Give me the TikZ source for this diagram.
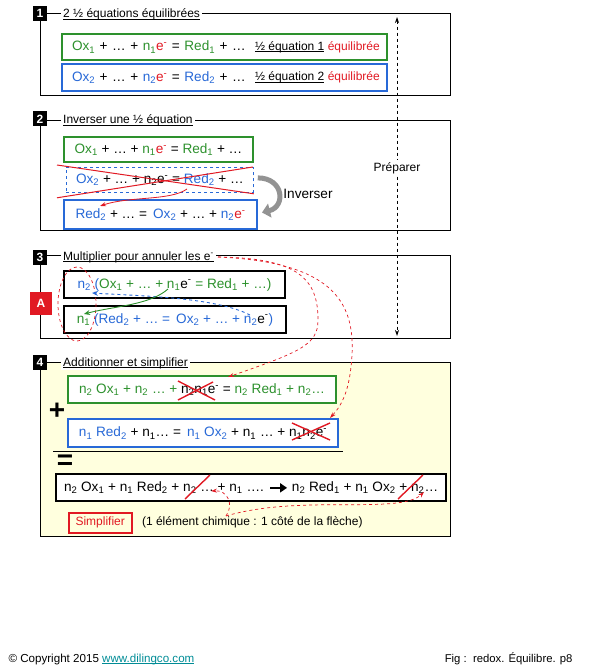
\documentclass[tikz,border=0pt]{standalone}
\usepackage{fontspec}
\setmainfont{Liberation Sans}
\usetikzlibrary{arrows.meta,positioning,calc}

\definecolor{eqgreen}{RGB}{45,145,45}
\definecolor{eqblue}{RGB}{40,105,215}
\definecolor{eqred}{RGB}{225,25,35}
\definecolor{paleyellow}{RGB}{255,255,222}
\definecolor{linkteal}{RGB}{0,140,150}

\newcommand{\gr}[1]{\textcolor{eqgreen}{#1}}
\newcommand{\bl}[1]{\textcolor{eqblue}{#1}}
\newcommand{\rd}[1]{\textcolor{eqred}{#1}}
\newcommand{\ix}[1]{\textsubscript{#1}}
\newcommand{\elec}{e\textsuperscript{-}}
\newcommand{\ul}[1]{\underline{\vphantom{x}\smash{#1}}}
\newcommand{\eqsize}{\fontsize{13.6}{15}\selectfont}
\newcommand{\lblsize}{\fontsize{12}{14}\selectfont}
\newcommand{\yields}{\tikz[baseline=-3.5pt]\draw[line width=2.2pt,-{Triangle[length=7pt,width=9pt]}] (0pt,0pt) -- (17pt,0pt);}

\tikzset{
  stepnum/.style={fill=black, text=white, font=\bfseries\lblsize, minimum width=14, minimum height=15, inner sep=0},
  steptitle/.style={fill=white, inner sep=2, anchor=base west, font=\lblsize},
  panel/.style={draw, line width=0.8},
  eqbox/.style={draw, line width=2, fill=white, inner xsep=8, font=\eqsize},
  greenbox/.style={eqbox, draw=eqgreen},
  bluebox/.style={eqbox, draw=eqblue},
  blackbox/.style={eqbox, draw=black},
  cross/.style={draw=eqred, line width=1.4},
  hint/.style={draw=eqred, dashed, line width=0.7, -{Stealth[length=6,width=4]}},
}

\begin{document}
\begin{tikzpicture}[x=1pt, y=-1pt, node distance=4]
  \useasboundingbox (0,0) rectangle (595,671);

  % 1 : two balanced half equations
  \draw[panel] (40,13) rectangle (450,95);
  \node[stepnum] (num1) at (40,13.5) {1};
  \node[steptitle] (title1) at (61,17.5) {\ul{2 ½ équations équilibrées}};
  \node[greenbox, anchor=north west, text width=305, inner xsep=10, minimum height=26, align=left] (half1) at (61,33)
    {\gr{Ox\ix{1}} + … + \gr{n\ix{1}}\rd{\elec} = \gr{Red\ix{1}} + …};
  \node[font=\lblsize, anchor=east, inner sep=0] (tag1) at ($(half1.east)+(-8,0)$) {\ul{½ équation 1} \rd{équilibrée}};
  \node[bluebox, anchor=north west, text width=305, inner xsep=10, minimum height=27, align=left] (half2) at (61,63)
    {\bl{Ox\ix{2}} + … + \bl{n\ix{2}}\rd{\elec} = \bl{Red\ix{2}} + …};
  \node[font=\lblsize, anchor=east, inner sep=0] (tag2) at ($(half2.east)+(-8,0)$) {\ul{½ équation 2} \rd{équilibrée}};

  % 2 : reverse one half equation
  \draw[panel] (40,120) rectangle (450,230);
  \node[stepnum] (num2) at (40,119) {2};
  \node[steptitle] (title2) at (61,124) {\ul{Inverser une ½ équation}};
  \node[greenbox, anchor=north west, minimum width=189, minimum height=25] (keep1) at (63,136)
    {\gr{Ox\ix{1}} + … + \gr{n\ix{1}}\rd{\elec} = \gr{Red\ix{1}} + …};
  \node[draw=eqblue, dashed, line width=0.8, font=\eqsize, anchor=north west, minimum width=187, minimum height=25] (flipOld) at (66,167)
    {\bl{Ox\ix{2}} + … + n\ix{2}\elec{} = \bl{Red\ix{2}} + …};
  \node[bluebox, anchor=north west, minimum width=193, minimum height=29] (flipNew) at (63,199)
    {\bl{Red\ix{2}} + … = \,\bl{Ox\ix{2}} + … + \bl{n\ix{2}}\rd{\elec}};
  \draw[cross, line width=1] ($(flipOld.north west)+(-9,-2)$) -- ($(flipOld.south east)+(0,1)$);
  \draw[cross, line width=1] ($(flipOld.south west)+(-9,5)$) -- ($(flipOld.north east)+(-1,0)$);
  \draw[line width=5, gray!85, -{Triangle[length=8,width=14]}]
    ($(flipOld.east)+(4,-2)$) .. controls +(26,0) and +(24,-6) .. ($(flipNew.east)+(4,-2)$);
  \node[font=\eqsize] (flipLabel) at (308,194) {Inverser};
  \coordinate (oldRed) at (187,189);
  \coordinate (newRed) at (100,206);
  \draw[eqred, line width=0.8, -{Stealth[length=6,width=4]}] (oldRed) .. controls (170,201) and (130,196) .. (newRed);

  % 3 : multiply to cancel the electrons
  \draw[panel] (40,255) rectangle (450,338);
  \node[stepnum] (num3) at (40,257.5) {3};
  \node[steptitle] (title3) at (61,260) {\ul{Multiplier pour annuler les e\textsuperscript{-}}};
  \node[blackbox, anchor=north west, minimum width=221, minimum height=27] (mult1) at (63,270)
    {\bl{n\ix{2} (}\gr{Ox\ix{1} + … + n\ix{1}}\elec{} \gr{= Red\ix{1} + …)}};
  \node[blackbox, anchor=north west, minimum width=222, minimum height=27] (mult2) at (63,305)
    {\gr{n\ix{1}} \bl{(Red\ix{2} + … = \,Ox\ix{2} + … + n\ix{2}}\elec\bl{)}};
  \node[fill=eqred, text=white, font=\bfseries\lblsize, minimum width=22, minimum height=23, inner sep=0] (markA) at (41,303) {A};
  \draw[eqred, dashed, line width=0.7] (77,304) ellipse [x radius=19, y radius=37];
  \coordinate (n2tail) at (250,315);
  \coordinate (n2head) at (92,293);
  \coordinate (n1tail) at (168,289);
  \coordinate (n1head) at (84,314);
  \draw[eqblue, dashed, line width=0.9, -{Stealth[length=6,width=5]}] (n2tail) .. controls (215,297) and (140,296) .. (n2head);
  \draw[eqgreen, line width=0.9, -{Stealth[length=6,width=5]}] (n1tail) .. controls (150,305) and (115,306) .. (n1head);

  % preparation arrow
  \coordinate (prepTop) at (397,17);
  \coordinate (prepBot) at (397,336);
  \draw[dashed, line width=0.8, {Stealth[length=6,width=4]}-{Stealth[length=6,width=4]}] (prepTop) -- (prepBot);
  \node[fill=white, font=\lblsize, inner sep=2] (prepLabel) at (397,168) {Préparer};

  % 4 : add and simplify
  \draw[panel, fill=paleyellow] (40,362) rectangle (450,536);
  \node[stepnum] (num4) at (40,362.5) {4};
  \node[steptitle] (title4) at (61,366) {\ul{Additionner et simplifier}};
  \node[greenbox, anchor=north west, minimum width=268, minimum height=27] (sum1) at (67,375)
    {\gr{n\ix{2} Ox\ix{1} + n\ix{2} … +} n\ix{2}n\ix{1}\elec{} = \gr{n\ix{2} Red\ix{1} + n\ix{2}…}};
  \node[bluebox, anchor=north west, minimum width=270, minimum height=28] (sum2) at (67,418)
    {\bl{n\ix{1} Red\ix{2}} + n\ix{1}… = \,\bl{n\ix{1} Ox\ix{2}} + n\ix{1} … + n\ix{1}n\ix{2}\elec};
  \node[font=\bfseries\fontsize{28}{28}\selectfont, inner sep=0] (plusSign) at (57,411) {+};
  \draw[line width=0.8] (53,451) -- (343,451);
  \node[font=\bfseries\fontsize{28}{28}\selectfont, inner sep=0] (equalSign) at (65,462) {=};
  \node[blackbox, anchor=north west, minimum width=390, minimum height=27] (total) at (55,473)
    {n\ix{2} Ox\ix{1} + n\ix{1} Red\ix{2} + n\ix{2} … + n\ix{1} …. \yields\ n\ix{2} Red\ix{1} + n\ix{1} Ox\ix{2} + n\ix{2}…};
  \draw[cross] (178,381) -- (215,400);
  \draw[cross] (178,400) -- (213,382);
  \draw[cross] (292,423) -- (330,440);
  \draw[cross] (292,440) -- (330,423);
  \draw[cross] (185,499) -- (210,475);
  \draw[cross] (398,499) -- (423,475);
  \node[draw=eqred, line width=1.5, text=eqred, font=\lblsize, anchor=north west, minimum width=63, minimum height=20, inner sep=2] (simplify) at (68,512) {Simplifier};
  \node[font=\lblsize, right=6 of simplify] (simplifyNote) {(1 élément chimique : 1 côté de la flèche)};

  % red hints linking the steps
  \coordinate (elecTitle) at (218,257);
  \coordinate (crossA) at (228,377);
  \coordinate (crossB) at (330,418);
  \coordinate (noteTop) at (226,516);
  \coordinate (slashA) at (211,491);
  \coordinate (slashB) at (424,492);
  \draw[hint] (elecTitle) .. controls (300,258) and (318,280) .. (318,320) .. controls (318,345) and (300,352) .. (crossA);
  \draw[hint] (elecTitle) .. controls (330,262) and (355,300) .. (352,355) .. controls (350,390) and (342,405) .. (crossB);
  \draw[hint] (noteTop) .. controls (234,505) and (228,490) .. (slashA);
  \draw[hint] (noteTop) .. controls (300,494) and (400,515) .. (slashB);

  % footer
  \node[anchor=west, font=\fontsize{11.6}{13}\selectfont] (copyright) at (5,659)
    {© Copyright 2015 \textcolor{linkteal}{\ul{www.dilingco.com}}};
  \node[anchor=east, font=\fontsize{11.3}{13}\selectfont] (figref) at (576,659) {Fig :\ \ redox. Équilibre. p8};
\end{tikzpicture}
\end{document}
